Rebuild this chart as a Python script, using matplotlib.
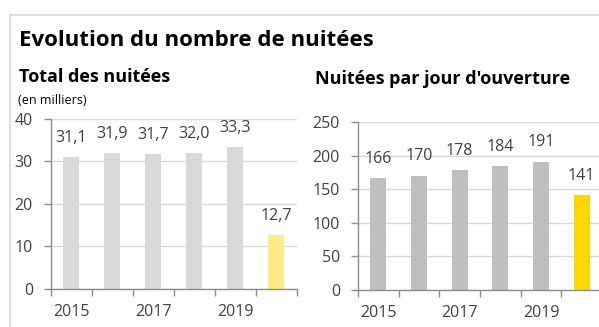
import matplotlib

matplotlib.use("Agg")
import matplotlib.pyplot as plt
from matplotlib.lines import Line2D

plt.rcParams["font.family"] = ["Open Sans", "DejaVu Sans"]

years = [2015, 2016, 2017, 2018, 2019, 2020]
year_labels = ["2015", "", "2017", "", "2019", ""]
total_nuitees = [31.1, 31.9, 31.7, 32.0, 33.3, 12.7]  # en milliers
nuitees_par_jour = [166, 170, 178, 184, 191, 141]

TEXT = "#404040"
GRID = "#d9d9d9"
SPINE = "#8c8c8c"


def fmt_fr(v, decimals):
    return f"{v:.{decimals}f}".replace(".", ",")


def bar_panel(ax, values, colors, ymax, ystep, decimals):
    x = list(range(len(values)))
    ax.bar(x, values, width=0.39, color=colors, zorder=2)
    for xi, v in zip(x, values):
        ax.annotate(fmt_fr(v, decimals), (xi, v), xytext=(0, 11), textcoords="offset points",
                    ha="center", va="baseline", fontsize=11.5, color=TEXT)
    ax.set_xlim(-0.5, len(values) - 0.5)
    ax.set_ylim(0, ymax)
    ax.set_yticks(range(0, ymax + 1, ystep))
    ax.set_xticks(x)
    ax.set_xticklabels(year_labels)
    ax.set_xticks([i - 0.5 for i in range(len(values) + 1)], minor=True)
    ax.tick_params(axis="x", which="major", length=0, pad=11, labelsize=11.5, labelcolor=TEXT)
    ax.tick_params(axis="x", which="minor", length=5, width=1, color=SPINE, direction="out")
    ax.tick_params(axis="y", length=5, width=1, color=SPINE, pad=8, labelsize=11.5, labelcolor=TEXT)
    ax.grid(axis="y", color=GRID, lw=1, zorder=0)
    ax.set_axisbelow(True)
    for side in ("top", "right"):
        ax.spines[side].set_visible(False)
    for side in ("left", "bottom"):
        ax.spines[side].set_color(SPINE)
        ax.spines[side].set_linewidth(1)
        ax.spines[side].set_zorder(3)


fig = plt.figure(figsize=(5.99, 3.27), dpi=100)

ax1 = fig.add_axes([0.0851, 0.1162, 0.4107, 0.520])
bar_panel(ax1, total_nuitees, ["#d9d9d9"] * 5 + ["#ffeb84"], 40, 10, 1)

ax2 = fig.add_axes([0.5977, 0.1131, 0.4073, 0.5138])
bar_panel(ax2, nuitees_par_jour, ["#bfbfbf"] * 5 + ["#ffd700"], 250, 50, 0)

# cadre gris clair
fig.add_artist(Line2D([10 / 599, 1], [1 - 15 / 327] * 2, color=GRID, lw=1.2))
fig.add_artist(Line2D([10 / 599] * 2, [0, 1 - 15 / 327], color=GRID, lw=1.2))

fig.text(19 / 599, 1 - 41 / 327, "Evolution du nombre de nuitées", fontsize=16, fontweight="bold",
         color="black", va="center", ha="left")
fig.text(19 / 599, 1 - 77 / 327, "Total des nuitées", fontsize=13, fontweight="bold",
         color="black", va="center", ha="left")
fig.text(18 / 599, 1 - 101 / 327, "(en milliers)", fontsize=9, color="black", va="center", ha="left")
fig.text(315 / 599, 1 - 79 / 327, "Nuitées par jour d'ouverture", fontsize=13, fontweight="bold",
         color="black", va="center", ha="left")

fig.savefig("out.png", dpi=100)
plt.close(fig)
